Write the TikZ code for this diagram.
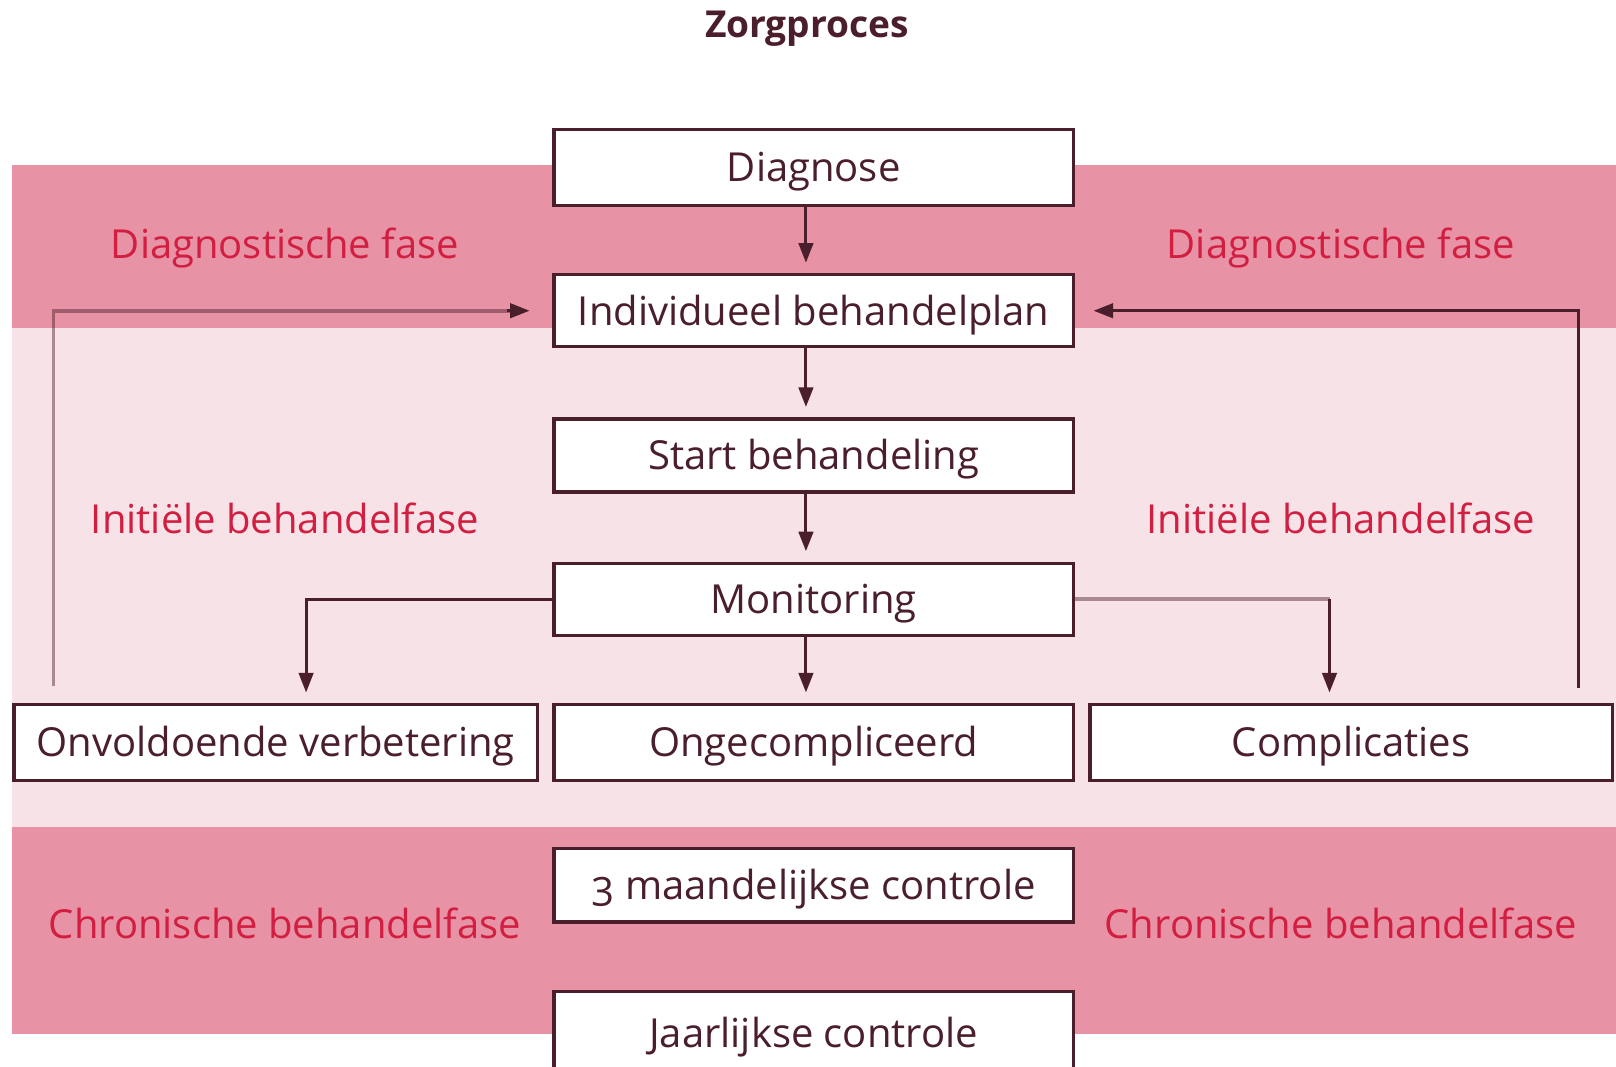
\documentclass[tikz,border=0pt]{standalone}
\usepackage{fontspec}
\setmainfont{Open Sans}
\usetikzlibrary{arrows.meta}
\definecolor{dk}{HTML}{4A1E2A}
\definecolor{bandD}{HTML}{E892A5}
\definecolor{bandL}{HTML}{F7E2E7}
\definecolor{phase}{HTML}{D21E40}
\begin{document}
\begin{tikzpicture}[x=0.5pt,y=-0.5pt,
  box/.style={draw=dk, line width=1.6pt, fill=white, text=dk, minimum width=252pt,
    minimum height=37pt, inner sep=0pt, font=\fontsize{19.4}{23}\selectfont,
    text height=13.9pt, text depth=0pt},
  lbl/.style={text=phase, font=\fontsize{19.4}{23}\selectfont, inner sep=0pt,
    text height=13.9pt, text depth=0pt},
  arr/.style={draw=dk, line width=1.5pt, -{Triangle[length=9.5pt,width=7pt]}, shorten >=5pt},
  faint/.style={draw=dk, line width=1.8pt, draw opacity=0.45},
]
\clip (0,0) rectangle (1568,1035);
% bands
\fill[bandL] (12,318) rectangle (1568,802);
\fill[bandD] (12,160) rectangle (1568,318);
\fill[bandD] (12,802) rectangle (1568,1003);
% title
\node[font=\bfseries\fontsize{18}{22}\selectfont, text=dk, inner sep=0pt] (title) at (783,28) {Zorgproces};
% phase labels
\node[lbl] (dfl) at (276.5,237) {Diagnostische fase};
\node[lbl] (dfr) at (1301,237) {Diagnostische fase};
\node[lbl] (ifl) at (276.5,504) {Initiële behandelfase};
\node[lbl] (ifr) at (1301,504) {Initiële behandelfase};
\node[lbl] (cfl) at (276.5,897) {Chronische behandelfase};
\node[lbl] (cfr) at (1301,897) {Chronische behandelfase};
% boxes
\node[box] (diag) at (789.5,162.5) {Diagnose};
\node[box, minimum height=35pt] (plan) at (789.5,301.5) {Individueel behandelplan};
\node[box, minimum height=35.5pt] (start) at (789.5,442) {Start behandeling};
\node[box, minimum height=35pt] (mon) at (789.5,581.5) {Monitoring};
\node[box, minimum width=253.9pt] (onv) at (267.5,720.5) {Onvoldoende verbetering};
\node[box] (ong) at (789.5,720.5) {Ongecompliceerd};
\node[box, minimum width=253.4pt] (comp) at (1311,720.5) {Complicaties};
\node[box, minimum height=35.5pt] (drie) at (789.5,859) {\addfontfeatures{Numbers=OldStyle}3 maandelijkse controle};
\node[box, minimum height=40pt] (jaar) at (789.5,1002) {Jaarlijkse controle};
% helper coordinates
\coordinate (ax) at (782,0);
\coordinate (lx) at (297,0);
\coordinate (rx) at (1290,0);
\coordinate (lfx) at (52,0);
\coordinate (rfx) at (1532,0);
% main flow
\draw[arr] (diag.south -| ax) -- (plan.north -| ax);
\draw[arr] (plan.south -| ax) -- (start.north -| ax);
\draw[arr] (start.south -| ax) -- (mon.north -| ax);
\draw[arr] (mon.south -| ax) -- (ong.north -| ax);
\draw[arr] (mon.west) -| (onv.north -| lx);
\draw[faint] (mon.east) -- (mon.east -| rx);
\draw[arr] (mon.east -| rx) -- (comp.north -| rx);
% feedback loops
\draw[faint, shorten <=8pt, shorten >=20pt] (onv.north -| lfx) |- (plan.west);
\draw[arr, shorten >=11pt] ([xshift=-22pt]plan.west) -- (plan.west);
\draw[arr, shorten <=7pt, shorten >=9pt] (comp.north -| rfx) |- (plan.east);
\end{tikzpicture}
\end{document}
